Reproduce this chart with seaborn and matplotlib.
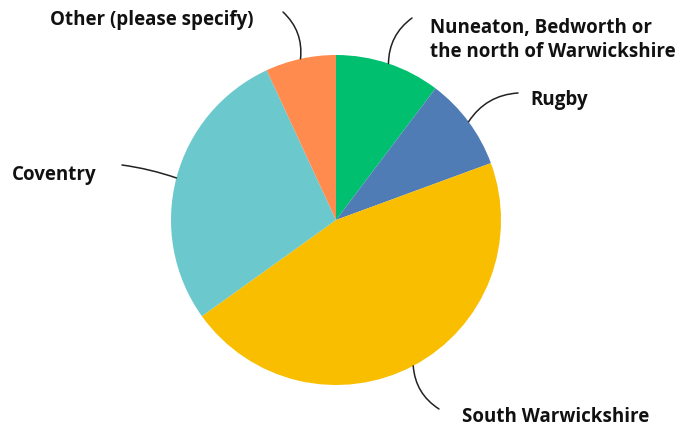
import numpy as np
import matplotlib
matplotlib.use("Agg")
import matplotlib.pyplot as plt
import seaborn as sns

# Share of respondents by area (%), clockwise from 12 o'clock
areas = ["Nuneaton, Bedworth or\nthe north of Warwickshire", "Rugby",
         "South Warwickshire", "Coventry", "Other (please specify)"]
shares = [10.3, 9.1, 45.7, 28.0, 6.9]
colors = ["#00BF6F", "#507CB6", "#F9BE00", "#6BC8CD", "#FF8B4F"]

# where each label sits (pixel offsets from top-left of the image) and leader start
label_pos = [(430, 40), (530, 100), (462, 417), (12, 175), (50, 20)]
line_start = [(412, 18), (518, 93), (439, 409), (122, 165), (283, 12)]
line_rad = [0.25, 0.25, -0.25, -0.05, -0.25]

sns.set_theme(style="white")
plt.rcParams["font.family"] = ["Open Sans", "DejaVu Sans"]

W, H = 683, 429
CX, CY, R = 336, 220, 165


def px(p):
    # image pixel -> data units (pie radius = 1)
    return ((p[0] - CX) / R, (CY - p[1]) / R)


fig = plt.figure(figsize=(W / 100, H / 100), dpi=100)
ax = fig.add_axes([0, 0, 1, 1])
wedges, _ = ax.pie(shares, colors=sns.color_palette(colors), startangle=90,
                   counterclock=False, radius=1,
                   wedgeprops=dict(linewidth=0))
ax.set_xlim(-CX / R, (W - CX) / R)
ax.set_ylim(-(H - CY) / R, CY / R)
ax.set_aspect("equal")
ax.axis("off")

for w, lab, lp, ls, rad in zip(wedges, areas, label_pos, line_start, line_rad):
    mid = np.deg2rad((w.theta1 + w.theta2) / 2)
    edge = (np.cos(mid), np.sin(mid))
    ax.annotate("", xy=edge, xytext=px(ls),
                arrowprops=dict(arrowstyle="-", color="#222222", lw=1.1,
                                connectionstyle=f"arc3,rad={rad}",
                                shrinkA=0, shrinkB=0))
    ax.text(*px(lp), lab, ha="left", va="center", fontsize=13.5,
            fontweight="bold", color="#111111", linespacing=1.32)

fig.savefig("out.png", dpi=100)
